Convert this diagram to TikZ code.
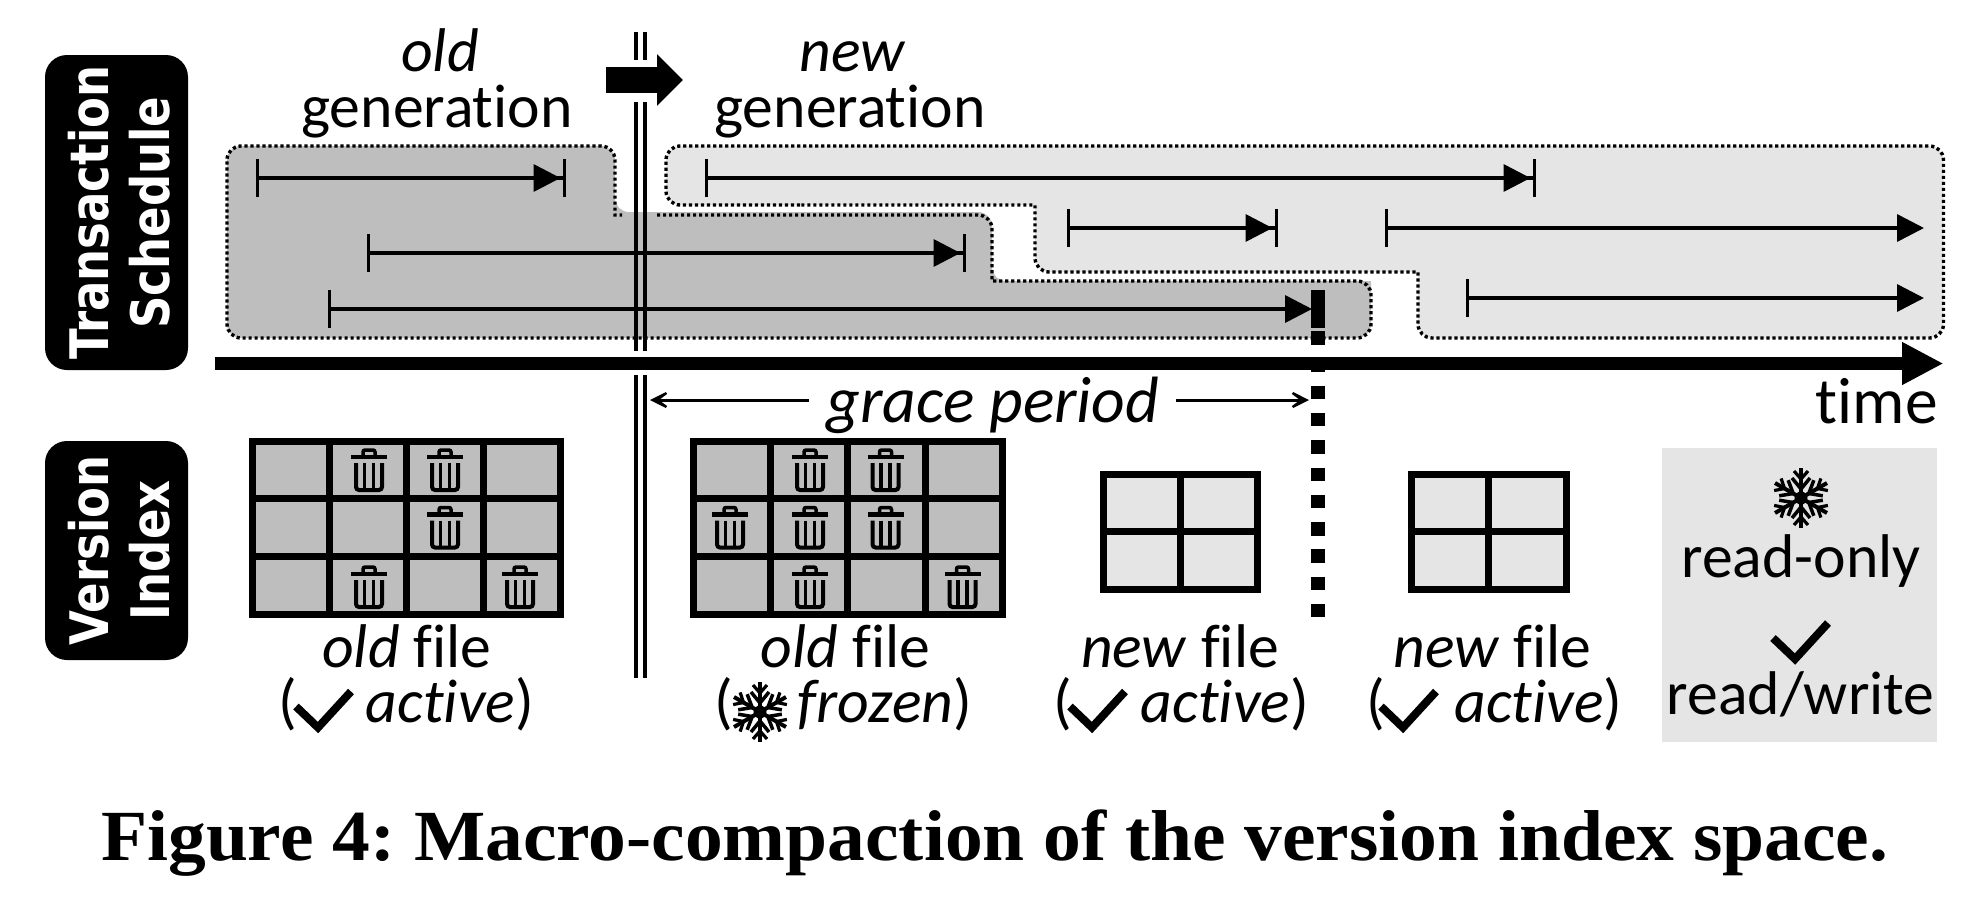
\documentclass[tikz,border=0pt]{standalone}
\usepackage{fontspec}
\setmainfont{Carlito}[Ligatures=CommonOff]
\newfontfamily\capfont{Liberation Serif}
\newfontfamily\tagfont{DejaVu Sans}
\usetikzlibrary{arrows.meta}
\definecolor{oldfill}{HTML}{BEBEBE}
\definecolor{newfill}{HTML}{E5E5E5}
\tikzset{
  txt/.style={inner sep=0pt,anchor=base,font=\fontsize{61.7}{62}\selectfont},
  bigtxt/.style={inner sep=0pt,anchor=base,font=\fontsize{65.5}{66}\selectfont},
  dotline/.style={line width=3.4pt,dash pattern=on 3.2pt off 2.8pt,line cap=butt},
  sepline/.style={line width=4pt},
  span/.style={line width=3.6pt,
     {Bar[width=38pt,line width=3pt]}-{Triangle[length=27pt,width=27pt,sep=2pt]Bar[width=38pt,line width=3pt]}},
  spanopen/.style={line width=3.6pt,
     {Bar[width=38pt,line width=3pt]}-{Triangle[length=27pt,width=27pt]}},
  gracearrow/.style={line width=3pt,-{Stealth[length=27pt,width=27pt,inset=18pt]}},
  tagbox/.style={fill=black,rotate=90,rounded corners=22pt,inner sep=0pt,minimum height=143pt},
  tagtext/.style={text=white,rotate=90,inner sep=0pt},
  gridline/.style={line width=7pt,line join=miter},
  trashicon/.pic={
    \draw[line width=4pt,rounded corners=3pt] (-13,-7) -- (-13,20) -- (13,20) -- (13,-7);
    \draw[line width=3.5pt] (-4.5,-7) -- (-4.5,20) (4.5,-7) -- (4.5,20);
    \draw[line width=4.5pt] (-18,-13) -- (18,-13);
    \draw[line width=3.5pt,rounded corners=2pt] (-6,-13) -- (-6,-20) -- (6,-20) -- (6,-13);
  },
  flakeicon/.pic={
    \foreach \a in {30,90,150,210,270,330}{
      \begin{scope}[rotate=\a]
        \draw[line width=4pt] (0,0) -- (30,0);
        \draw[line width=3.5pt] (9,0) -- (20,9) (9,0) -- (20,-9);
        \draw[line width=3.2pt] (19,0) -- (27,7) (19,0) -- (27,-7);
      \end{scope}}
    \fill (0,0) circle (6.5);
  },
  checkicon/.pic={
    \draw[line width=8pt,line join=miter] (-28,-3) -- (-6,18) -- (27,-18);
  },
  oldgrid/.pic={
    \draw[gridline,fill=oldfill] (0,0) rectangle (308.5,173);
    \draw[gridline] (77,0) -- (77,173) (154,0) -- (154,173) (231.5,0) -- (231.5,173)
       (0,57.2) -- (308.5,57.2) (0,115.2) -- (308.5,115.2);
  },
  newgrid/.pic={
    \draw[gridline,fill=newfill] (0,0) rectangle (154.5,115);
    \draw[gridline] (77,0) -- (77,115) (0,57) -- (154.5,57);
  },
}
\begin{document}
\begin{tikzpicture}[x=1pt,y=-1pt]
\useasboundingbox (0,0) rectangle (1984,898);

% generation regions
\fill[oldfill,rounded corners=14pt] (227,146) -- (615,146) -- (615,212)[sharp corners] -- (640,212) [rounded corners=14pt] -- (992,212) -- (992,281)[sharp corners] -- (1371,281)[rounded corners=14pt] -- (1371,338) -- (227,338) -- cycle;
\fill[newfill] (800,205) [rounded corners=14pt] -- (666,205) -- (666,146) -- (1943.5,146) -- (1943.5,338) -- (1418,338) [sharp corners] -- (1418,272) [rounded corners=14pt] -- (1035,272) [sharp corners] -- (1035,205) -- cycle;

\draw[dotline] (657,215) [rounded corners=14pt] -- (992,215) [sharp corners] -- (992,281) [rounded corners=14pt] -- (1371,281) -- (1371,338) -- (227,338) -- (227,146) -- (615,146) [sharp corners] -- (615,215) -- (622,215);
\draw[dotline] (800,205) [rounded corners=14pt] -- (666,205) -- (666,146) -- (1943.5,146) -- (1943.5,338) -- (1418,338) [sharp corners] -- (1418,272) [rounded corners=14pt] -- (1035,272) [sharp corners] -- (1035,205) -- (800,205);

% double separator
\coordinate (sepA) at (635.5,32); \coordinate (sepB) at (635.5,60);
\coordinate (sepC) at (635.5,102); \coordinate (sepD) at (635.5,351);
\coordinate (sepE) at (635.5,375); \coordinate (sepF) at (635.5,678);
\coordinate (sepa) at (644.5,32); \coordinate (sepb) at (644.5,60);
\coordinate (sepc) at (644.5,102); \coordinate (sepd) at (644.5,351);
\coordinate (sepe) at (644.5,375); \coordinate (sepf) at (644.5,678);
\draw[sepline] (sepA) -- (sepB) (sepC) -- (sepD) (sepE) -- (sepF)
               (sepa) -- (sepb) (sepc) -- (sepd) (sepe) -- (sepf);

% block arrow
\coordinate (blockS) at (606,80); \coordinate (blockE) at (683,80);
\draw[line width=26pt,-{Triangle[length=26pt,width=50pt]}] (blockS) -- (blockE);

% intervals
\coordinate (o1s) at (255.5,178); \coordinate (o1e) at (565.5,178);
\coordinate (o2s) at (366.5,253); \coordinate (o2e) at (965.5,253);
\coordinate (o3s) at (327.5,309); \coordinate (o3e) at (1312,309);
\coordinate (n1s) at (704.5,178); \coordinate (n1e) at (1535.5,178);
\coordinate (n2s) at (1066.5,228); \coordinate (n2e) at (1277.5,228);
\coordinate (n3s) at (1384.5,228); \coordinate (n3e) at (1924,228);
\coordinate (n4s) at (1465.5,298); \coordinate (n4e) at (1924,298);
\draw[span] (o1s) -- (o1e);
\draw[span] (o2s) -- (o2e);
\draw[spanopen] (o3s) -- (o3e);
\draw[span] (n1s) -- (n1e);
\draw[span] (n2s) -- (n2e);
\draw[spanopen] (n3s) -- (n3e);
\draw[spanopen] (n4s) -- (n4e);

% time axis
\coordinate (axisS) at (215,363.5); \coordinate (axisE) at (1943.5,363.5);
\draw[line width=13.5pt,-{Triangle[length=41.5pt,width=40pt]}] (axisS) -- (axisE);

% end of grace period
\coordinate (barT) at (1318,290); \coordinate (barM) at (1318,328);
\coordinate (dashT) at (1318,331); \coordinate (dashB) at (1318,617);
\draw[line width=14pt] (barT) -- (barM);
\draw[line width=14pt,dash pattern=on 13.5pt off 13.8pt] (dashT) -- (dashB);

% headings
\node[txt] (oldw) at (440,71) {\textit{old}};
\node[txt] (oldg) at (437,127) {generation};
\node[txt] (neww) at (852.5,71) {\textit{new}};
\node[txt] (newg) at (850,127) {generation};
\node[bigtxt,anchor=base east] (timew) at (1938,423) {time};

% grace period
\node[bigtxt] (grace) at (993,422) {\textit{grace period}};
\coordinate (graceL) at (650,400); \coordinate (graceR) at (1309,400);
\draw[gracearrow] (809,400) -- (graceL);
\draw[gracearrow] (1176,400) -- (graceR);

% side tags
\node[tagbox,minimum width=315pt] (tagT) at (116.5,212.5) {};
\node[tagtext] (tagTt) at (119.5,212.5) {\scalebox{1}[1.18]{\parbox{300pt}{\centering\tagfont\bfseries\fontsize{45}{51.5}\selectfont Transaction\\Schedule}}};
\node[tagbox,minimum width=219pt] (tagV) at (116.5,550.5) {};
\node[tagtext] (tagVt) at (119.5,550.5) {\scalebox{1}[1.18]{\parbox{210pt}{\centering\tagfont\bfseries\fontsize{45}{51.5}\selectfont Version\\Index}}};

% files
\pic at (252,441.5) {oldgrid};
\pic at (693.5,441.5) {oldgrid};
\pic at (1103,474) {newgrid};
\pic at (1411.5,474) {newgrid};
\foreach \p in {(369,470),(445,470),(445,527.5),(369,587),(520,587),
                (810,470),(885.5,470),(730,527.5),(810,527.5),(885.5,527.5),(810,587),(962.5,587)}
  \pic at \p {trashicon};

% file labels
\node[txt] (f1a) at (407,667) {\textit{old} file};
\node[txt,anchor=base west] (f1b) at (278,722) {(\hspace{69pt}\textit{active})};
\pic at (324,709.5) {checkicon};
\node[txt] (f2a) at (845.5,667) {\textit{old} file};
\node[txt,anchor=base west] (f2b) at (714,722) {(\hspace{65pt}\textit{frozen})};
\pic at (760,712) {flakeicon};
\node[txt] (f3a) at (1180,667) {\textit{new} file};
\node[txt,anchor=base west] (f3b) at (1053,722) {(\hspace{69pt}\textit{active})};
\pic at (1098,709.5) {checkicon};
\node[txt] (f4a) at (1492.5,667) {\textit{new} file};
\node[txt,anchor=base west] (f4b) at (1366.5,722) {(\hspace{69pt}\textit{active})};
\pic at (1409,709.5) {checkicon};

% legend
\fill[newfill] (1662,448) rectangle (1937,742);
\pic at (1801,498) {flakeicon};
\node[txt] (ro) at (1801,577) {read-only};
\pic at (1801,641) {checkicon};
\node[txt] (rw) at (1800.5,714) {read/write};

% caption
\node[inner sep=0pt,anchor=base west] (cap) at (101,860) {\resizebox{1787pt}{\height}{\capfont\bfseries\frenchspacing\fontsize{72}{72}\selectfont Figure 4: Macro-compaction of the version index space.}};
\end{tikzpicture}
\end{document}
